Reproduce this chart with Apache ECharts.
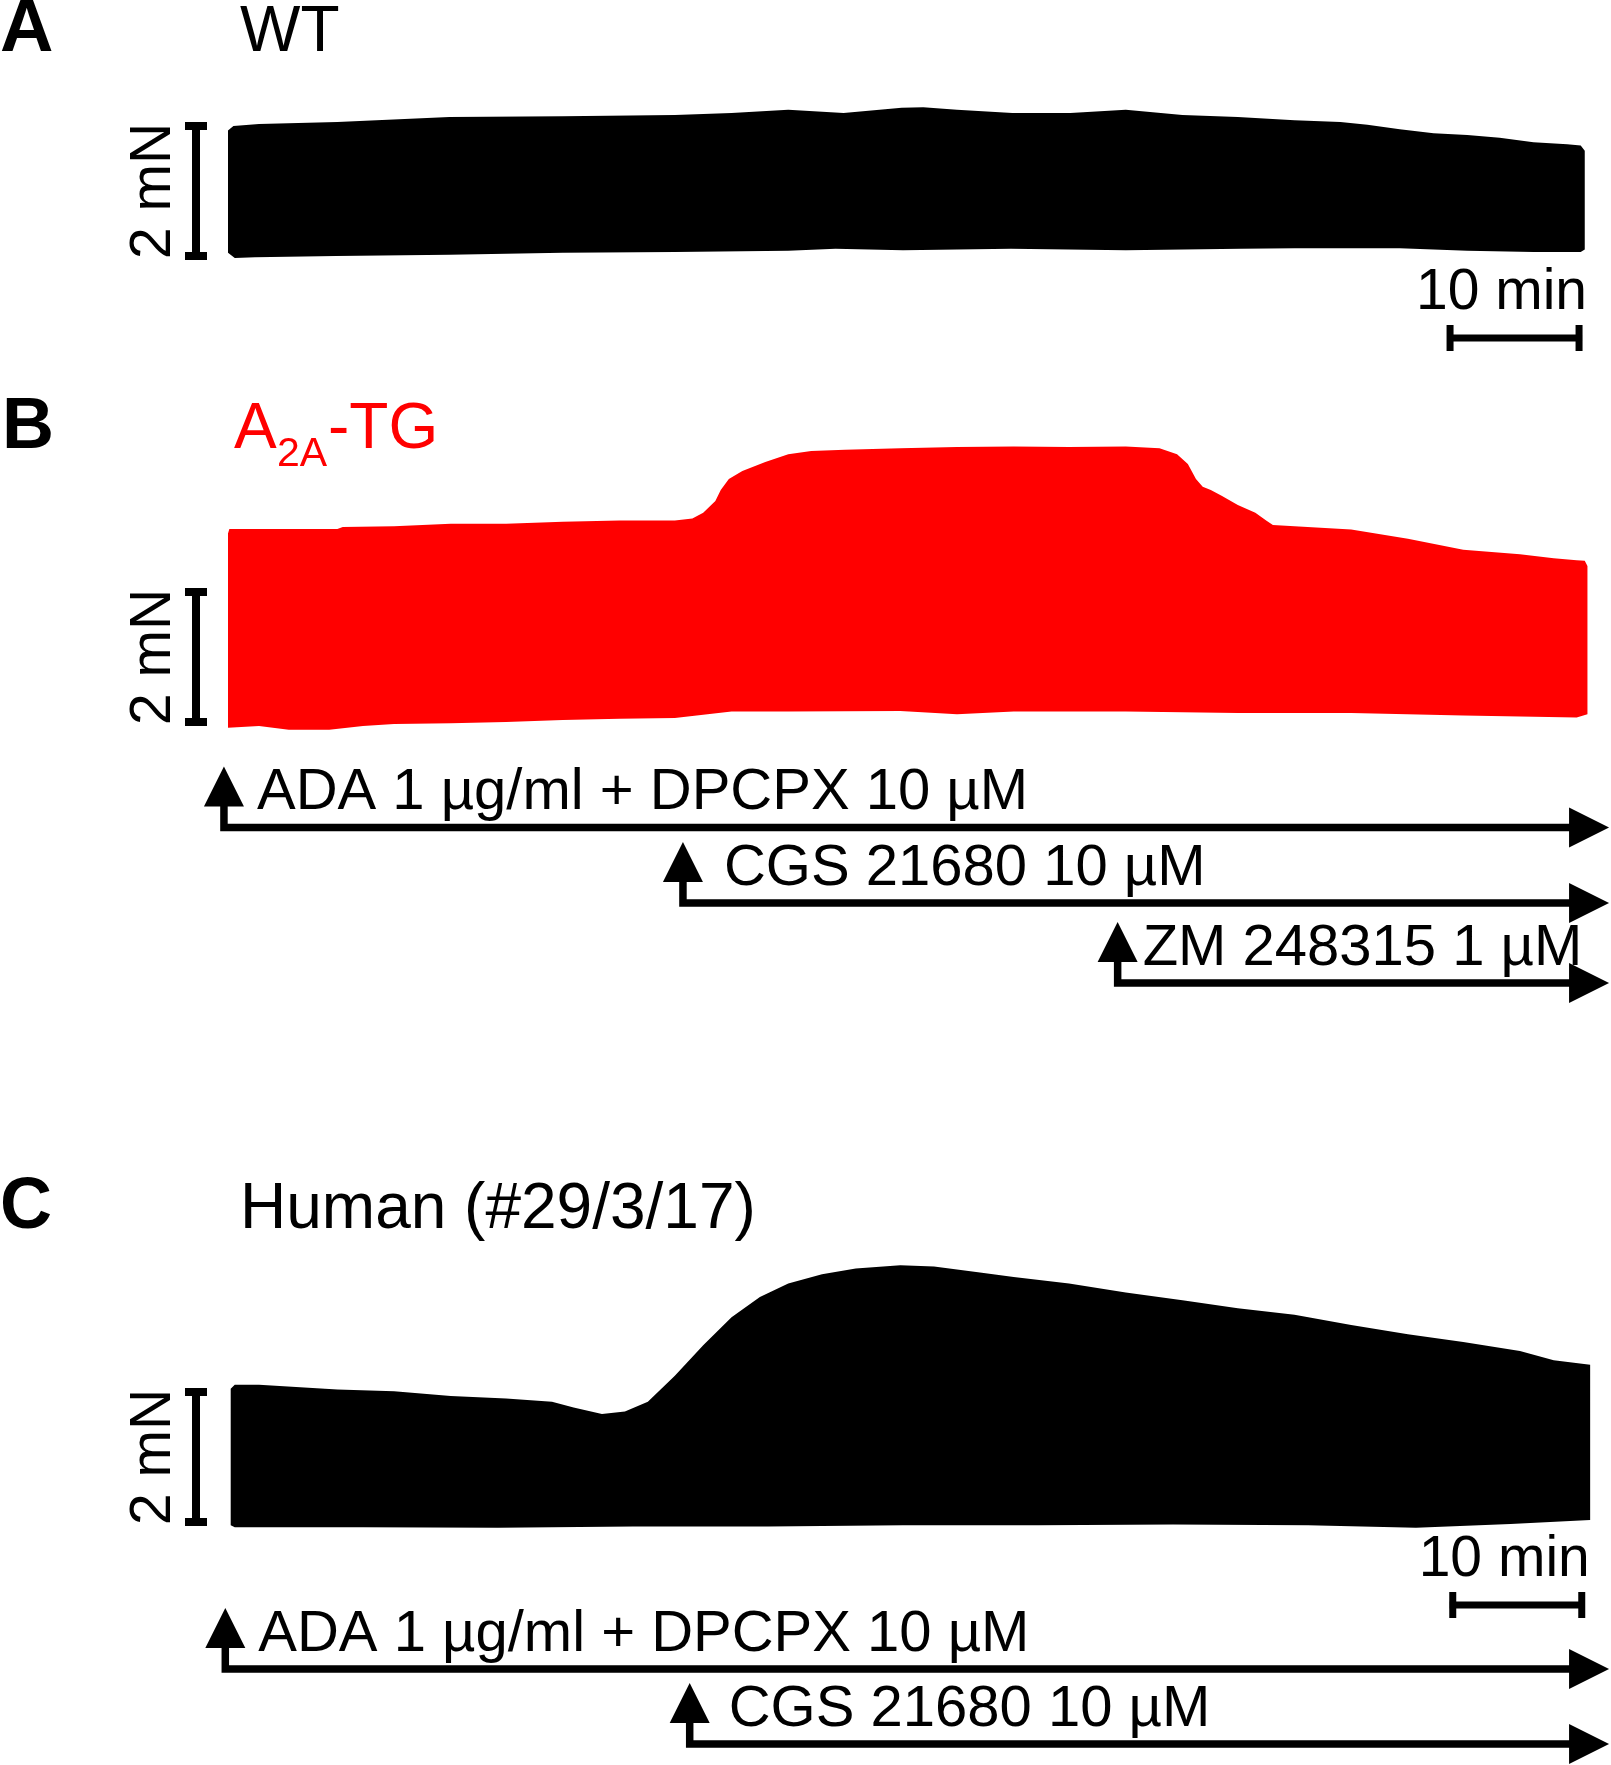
<!DOCTYPE html>
<html>
<head>
<meta charset="utf-8">
<title>Force traces</title>
<script src="https://cdn.jsdelivr.net/npm/echarts@6.0.0/dist/echarts.min.js"></script>
<style>
  html, body { margin: 0; padding: 0; background: #fff; }
  #app { width: 1611px; height: 1765px; }
</style>
</head>
<body>
<div id="app"></div>
<script>
// envelope of the force traces, [time (min), force (mN)]
const wtUpper = [[0, 1.93], [0.4, 2.0], [2.3, 2.03], [8.1, 2.06], [16.4, 2.14], [24.8, 2.15], [33.1, 2.17], [37.3, 2.2], [41.5, 2.25], [45.6, 2.2], [49.9, 2.28], [51.5, 2.29], [54.0, 2.25], [58.1, 2.2], [62.4, 2.2], [66.5, 2.25], [70.7, 2.17], [74.8, 2.14], [79.0, 2.09], [82.4, 2.06], [84.4, 2.02], [86.8, 1.95], [89.3, 1.89], [91.8, 1.86], [94.2, 1.82], [96.7, 1.75], [99.2, 1.72], [100.2, 1.7], [100.5, 1.62]];
const wtLower = [[0, 0.05], [0.5, -0.03], [2, -0.02], [8, 0.0], [16.4, 0.02], [24.8, 0.05], [33.1, 0.06], [41.5, 0.08], [45, 0.11], [50, 0.09], [58, 0.11], [66.5, 0.09], [75, 0.11], [79, 0.12], [86.8, 0.12], [91.8, 0.08], [96.7, 0.06], [100.2, 0.06], [100.5, 0.1]];

const tgUpper = [[0, 2.9], [0.1, 2.97], [4.0, 2.97], [8.1, 2.97], [8.5, 3.0], [12.3, 3.01], [16.5, 3.05], [20.6, 3.05], [24.8, 3.08], [29.0, 3.1], [33.1, 3.1], [34.4, 3.13], [35.2, 3.22], [36.1, 3.4], [36.5, 3.57], [37.1, 3.74], [38.1, 3.86], [39.8, 4.0], [41.5, 4.12], [43.2, 4.17], [45.7, 4.19], [49.8, 4.21], [54.0, 4.23], [58.2, 4.24], [62.3, 4.23], [66.5, 4.24], [69.0, 4.21], [70.3, 4.12], [71.1, 3.97], [71.7, 3.74], [72.2, 3.62], [72.8, 3.57], [73.6, 3.48], [74.8, 3.34], [76.1, 3.22], [76.9, 3.1], [77.4, 3.03], [79.0, 3.01], [83.2, 2.96], [87.4, 2.82], [91.5, 2.65], [95.7, 2.58], [98.2, 2.52], [99.9, 2.49], [100.5, 2.48], [100.7, 2.4]];
const tgLower = [[0, -0.09], [2.3, -0.06], [4.5, -0.12], [7.5, -0.12], [10, -0.06], [12.3, -0.03], [16.5, -0.02], [20.6, 0.0], [24.8, 0.03], [29.0, 0.05], [33.1, 0.06], [37.3, 0.16], [41.5, 0.16], [49.8, 0.17], [54.0, 0.12], [58.2, 0.16], [66.5, 0.16], [74.8, 0.14], [83.2, 0.14], [91.5, 0.1], [99.9, 0.07], [100.7, 0.12]];

const humanUpper = [[0.2, 2.05], [0.5, 2.11], [2.3, 2.11], [8.1, 2.04], [12.3, 2.01], [16.5, 1.94], [20.6, 1.9], [24.0, 1.85], [25.6, 1.76], [27.7, 1.66], [29.4, 1.7], [31.1, 1.85], [33.1, 2.25], [35.2, 2.72], [37.3, 3.15], [39.4, 3.46], [41.5, 3.67], [44.0, 3.81], [46.5, 3.9], [49.8, 3.95], [52.3, 3.93], [55.7, 3.84], [58.2, 3.77], [62.3, 3.67], [66.5, 3.53], [70.7, 3.41], [74.8, 3.29], [79.0, 3.19], [83.2, 3.03], [87.4, 2.89], [91.5, 2.77], [95.7, 2.63], [98.2, 2.49], [100.9, 2.42]];
const humanLower = [[0.2, -0.05], [0.5, -0.08], [10, -0.08], [20, -0.09], [30, -0.07], [40, -0.07], [50, -0.05], [60, -0.05], [70, -0.04], [80, -0.05], [88, -0.09], [95, -0.03], [100.9, 0.03]];

// drug additions (min)
const tgDrugs = ["ADA 1 µg/ml + DPCPX 10 µM", "CGS 21680 10 µM", "ZM 248315 1 µM"];
const tgDrugTimes = [-0.3, 33.7, 65.9];
const humanDrugs = ["ADA 1 µg/ml + DPCPX 10 µM", "CGS 21680 10 µM"];
const humanDrugTimes = [-0.2, 34.2];
const washoutEnd = 102.3;

// calibration bars
const forceBar = 2; // mN
const timeBar = 10; // min
const forceBarLabel = "2 mN";
const timeBarLabel = "10 min";

// layout
const FONT = '"Liberation Sans", Arial, Helvetica, sans-serif';
const PX_PER_MIN = 13.5;
const PX_PER_MN = 65;
const X0 = 228;
const T_MIN = -16;
const T_MAX = 102.4;
const panels = [
  { base: 256, yMin: -2, yMax: 2.6 },
  { base: 722, yMin: -4.6, yMax: 4.6 },
  { base: 1522, yMin: -3.6, yMax: 4.2 }
];

const chart = echarts.init(document.getElementById("app"));

// text element placed so that its baseline lands on `baseline`
const txt = (x, baseline, text, size, o = {}) => ({
  type: "text",
  x: x,
  y: baseline - 0.3465 * size,
  rotation: o.rotation || 0,
  style: {
    text: text,
    fill: o.color || "#000",
    font: (o.weight || "normal") + " " + size + "px " + FONT,
    align: o.align || "left",
    textAlign: o.align || "left",
    verticalAlign: "middle",
    textVerticalAlign: "middle"
  }
});
const seg = (x1, y1, x2, y2, w) => ({
  type: "line",
  shape: { x1, y1, x2, y2 },
  style: { stroke: "#000", lineWidth: w }
});
const tri = (pts) => ({ type: "polygon", shape: { points: pts }, style: { fill: "#000" } });

function band(gi, upper, lower, color) {
  return {
    type: "custom",
    xAxisIndex: gi,
    yAxisIndex: gi,
    silent: true,
    data: [[0, 0]],
    renderItem: (params, api) => {
      const pts = upper.concat(lower.slice().reverse()).map((p) => api.coord(p));
      return { type: "polygon", shape: { points: pts }, style: { fill: color } };
    }
  };
}

function calibration(gi, timeBarEnd, timeBarDy) {
  return {
    type: "custom",
    xAxisIndex: gi,
    yAxisIndex: gi,
    silent: true,
    data: [[0, 0]],
    renderItem: (params, api) => {
      const [x0, y0] = api.coord([0, 0]);
      const yTop = api.coord([0, forceBar])[1];
      const bx = x0 - 32;
      const kids = [
        seg(bx, y0, bx, yTop, 8),
        seg(bx - 11, y0, bx + 11, y0, 8),
        seg(bx - 11, yTop, bx + 11, yTop, 8),
        txt(bx - 42, (y0 + yTop) / 2 + 0.3465 * 57, forceBarLabel, 57, { align: "center", rotation: Math.PI / 2 })
      ];
      if (timeBarEnd != null) {
        const xs = api.coord([timeBarEnd - timeBar, 0])[0];
        const xe = api.coord([timeBarEnd, 0])[0];
        const ty = y0 + timeBarDy;
        kids.push(seg(xs, ty, xe, ty, 7));
        kids.push(seg(xs + 3, ty - 13, xs + 3, ty + 13, 7));
        kids.push(seg(xe - 3, ty - 13, xe - 3, ty + 13, 7));
        kids.push(txt(xe + 5, ty - 25, timeBarLabel, 57, { align: "right" }));
      }
      return { type: "group", children: kids };
    }
  };
}

function drugArrows(gi, labels, times, rowDy, labelDx) {
  return {
    type: "custom",
    xAxisIndex: gi,
    yAxisIndex: gi,
    silent: true,
    data: times.map((t, i) => [t, 0, i]),
    renderItem: (params, api) => {
      const i = api.value(2);
      const [x, y0] = api.coord([api.value(0), 0]);
      const y = y0 + rowDy[i];
      const tip = api.coord([washoutEnd, 0])[0];
      return {
        type: "group",
        children: [
          tri([[x, y - 61], [x - 20, y - 21], [x + 20, y - 21]]),
          {
            type: "polyline",
            shape: { points: [[x, y - 24], [x, y], [tip - 36, y]] },
            style: { stroke: "#000", lineWidth: 7.5, lineJoin: "miter", fill: "none" }
          },
          tri([[tip - 40, y - 20], [tip, y], [tip - 40, y + 20]]),
          txt(x + labelDx[i], y - 14, labels[i], 58)
        ]
      };
    }
  };
}

const option = {
  animation: false,
  backgroundColor: "#fff",
  grid: panels.map((p) => ({
    left: X0 + T_MIN * PX_PER_MIN,
    width: (T_MAX - T_MIN) * PX_PER_MIN,
    top: p.base - p.yMax * PX_PER_MN,
    height: (p.yMax - p.yMin) * PX_PER_MN
  })),
  xAxis: panels.map((p, i) => ({ type: "value", gridIndex: i, min: T_MIN, max: T_MAX, show: false })),
  yAxis: panels.map((p, i) => ({ type: "value", gridIndex: i, min: p.yMin, max: p.yMax, show: false })),
  series: [
    band(0, wtUpper, wtLower, "#000"),
    calibration(0, 100.3, 82),
    band(1, tgUpper, tgLower, "#ff0000"),
    calibration(1, null, 0),
    drugArrows(1, tgDrugs, tgDrugTimes, [105.5, 181, 261], [33, 41, 25]),
    band(2, humanUpper, humanLower, "#000"),
    calibration(2, 100.5, 83),
    drugArrows(2, humanDrugs, humanDrugTimes, [147, 222], [33, 39])
  ],
  graphic: {
    elements: [
      txt(0, 56, "A", 74, { weight: "bold" }),
      txt(240, 56, "WT", 64),
      txt(2, 453, "B", 72, { weight: "bold" }),
      txt(234, 453, "A", 64, { color: "#ff0000" }),
      txt(277, 469, "2A", 41, { color: "#ff0000" }),
      txt(328, 453, "-TG", 64, { color: "#ff0000" }),
      txt(0, 1233, "C", 72, { weight: "bold" }),
      txt(240, 1233, "Human (#29/3/17)", 64)
    ]
  }
};

chart.setOption(option);
</script>
</body>
</html>
